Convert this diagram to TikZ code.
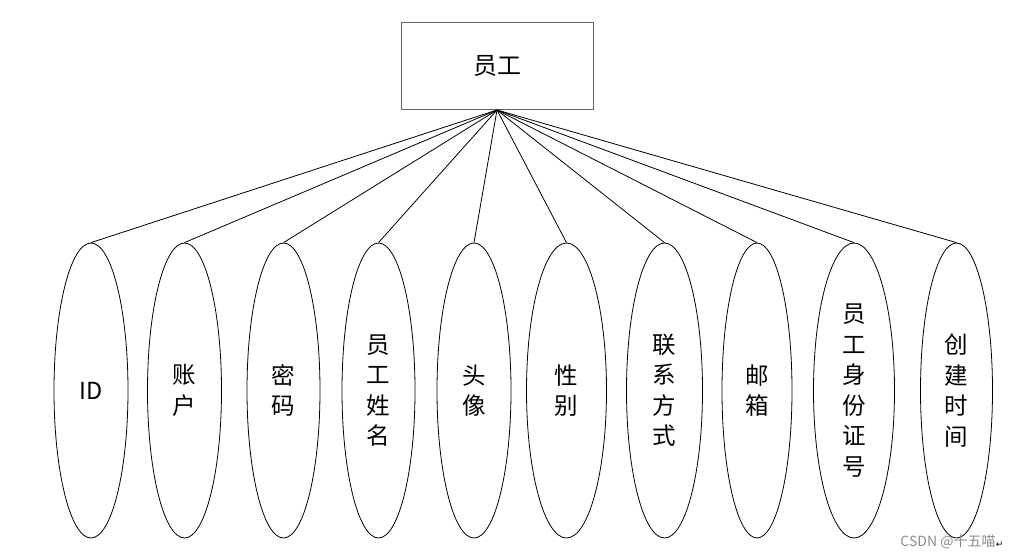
\documentclass[tikz,border=0pt]{standalone}
\usepackage{fontspec}
\setmainfont{Noto Sans CJK SC}
\newfontfamily\symfont{DejaVu Sans}
\usetikzlibrary{shapes.geometric}
\tikzset{
  entity/.style={draw=black!60, line width=1pt, minimum width=192pt, minimum height=87pt, inner sep=0pt, font=\fontsize{24}{29}\selectfont},
  attr/.style={draw=black, line width=0.8pt, ellipse, minimum height=295pt, inner sep=0pt, align=center, font=\fontsize{23.5}{30.5}\selectfont},
  link/.style={draw=black, line width=0.8pt}
}
\begin{document}
\begin{tikzpicture}[x=1pt,y=-1pt]
\useasboundingbox (0,0) rectangle (1015,558);
\node[entity] (emp) at (497,66) {员工};
\node[attr, minimum width=74pt] (a1) at (91,390.5) {ID};
\node[attr, minimum width=74pt] (a2) at (184.5,390.5) {账\\户};
\node[attr, minimum width=73pt] (a3) at (283.5,390.5) {密\\码};
\node[attr, minimum width=73pt] (a4) at (378.5,390.5) {员\\工\\姓\\名};
\node[attr, minimum width=74pt] (a5) at (474,390.5) {头\\像};
\node[attr, minimum width=80pt] (a6) at (566.5,390.5) {性\\别};
\node[attr, minimum width=76pt] (a7) at (664.5,390.5) {联\\系\\方\\式};
\node[attr, minimum width=70pt] (a8) at (757,390.5) {邮\\箱};
\node[attr, minimum width=81pt] (a9) at (854,390.5) {员\\工\\身\\份\\证\\号};
\node[attr, minimum width=72pt] (a10) at (956.5,390.5) {创\\建\\时\\间};
\foreach \i in {1,...,10} {
  \draw[link] (emp.south) -- (a\i.north);
}
\node[text=black!45, font=\fontsize{14}{16}\selectfont, inner sep=0pt] (wm) at (948,542) {CSDN @十五喵};
\node[font=\symfont\fontsize{9}{10}\selectfont, inner sep=0pt, anchor=west] (pm) at ([yshift=-3pt]wm.east) {↵};
\end{tikzpicture}
\end{document}
